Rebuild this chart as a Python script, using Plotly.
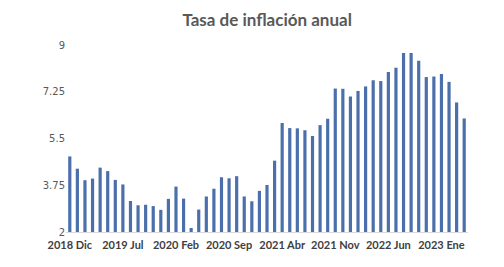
import plotly.graph_objects as go

months = ["Ene", "Feb", "Mar", "Abr", "May", "Jun", "Jul", "Ago", "Sep", "Oct", "Nov", "Dic"]

categories = (["2018 Dic"]
              + [f"2019 {m}" for m in months]
              + [f"2020 {m}" for m in months]
              + [f"2021 {m}" for m in months]
              + [f"2022 {m}" for m in months]
              + [f"2023 {m}" for m in months[:4]])

inflation = [4.83,
             4.37, 3.94, 4.00, 4.41, 4.28, 3.95, 3.78, 3.16, 3.00, 3.02, 2.97, 2.83,
             3.24, 3.70, 3.25, 2.15, 2.84, 3.33, 3.62, 4.05, 4.01, 4.09, 3.33, 3.15,
             3.54, 3.76, 4.67, 6.08, 5.89, 5.88, 5.81, 5.59, 6.00, 6.24, 7.37, 7.36,
             7.07, 7.28, 7.45, 7.68, 7.65, 7.99, 8.15, 8.70, 8.70, 8.41, 7.80, 7.82,
             7.91, 7.62, 6.85, 6.25]

tick_labels = categories[::7]
y_ticks = [2, 3.75, 5.5, 7.25, 9]

fig = go.Figure(go.Bar(x=categories, y=inflation, marker_color="#4A6FAA",
                       marker_line_width=0))

fig.update_layout(
    width=504, height=267,
    margin=dict(l=66, r=36, t=45, b=35),
    paper_bgcolor="white", plot_bgcolor="white",
    bargap=0.58,
    showlegend=False,
    title=dict(text="<b>Tasa de inflación anual</b>", x=0.53, xanchor="center",
               y=0.925, yanchor="middle",
               font=dict(family="Lato", size=17, color="#595959")),
    xaxis=dict(type="category", tickmode="array", tickvals=tick_labels,
               ticktext=[f"<b>{t}</b>" for t in tick_labels],
               tickangle=0, showgrid=False, showline=True,
               linecolor="#D9D9D9", linewidth=1, ticks="",
               ticklabelstandoff=3,
               tickfont=dict(family="Lato", size=11, color="#404040")),
    yaxis=dict(range=[2, 9], tickmode="array", tickvals=y_ticks,
               ticktext=["2", "3.75", "5.5", "7.25", "9"],
               showgrid=False, zeroline=False, showline=False, ticks="",
               tickfont=dict(family="DejaVu Sans", size=10, color="#595959")),
)

fig.write_html("out.html")
